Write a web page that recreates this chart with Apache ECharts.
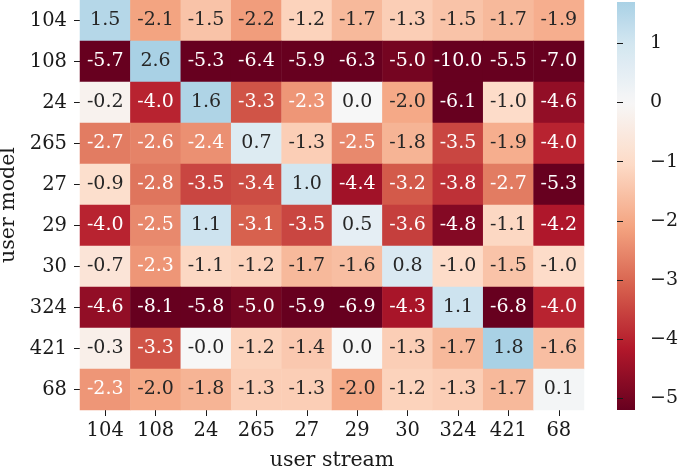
<!DOCTYPE html>
<html>
<head>
<meta charset="utf-8">
<script src="https://cdn.jsdelivr.net/npm/echarts@6/dist/echarts.min.js"></script>
<style>
  html, body { margin: 0; padding: 0; background: #fff; }
  #chart { width: 685px; height: 468px; }
</style>
</head>
<body>
<div id="chart"></div>
<script>
// categories (rows = user model, cols = user stream)
const streams = ['104', '108', '24', '265', '27', '29', '30', '324', '421', '68'];
const models = ['104', '108', '24', '265', '27', '29', '30', '324', '421', '68'];

// one row of values per user model
const row104 = [1.5, -2.1, -1.5, -2.2, -1.2, -1.7, -1.3, -1.5, -1.7, -1.9];
const row108 = [-5.7, 2.6, -5.3, -6.4, -5.9, -6.3, -5.0, -10.0, -5.5, -7.0];
const row24 = [-0.2, -4.0, 1.6, -3.3, -2.3, 0.0, -2.0, -6.1, -1.0, -4.6];
const row265 = [-2.7, -2.6, -2.4, 0.7, -1.3, -2.5, -1.8, -3.5, -1.9, -4.0];
const row27 = [-0.9, -2.8, -3.5, -3.4, 1.0, -4.4, -3.2, -3.8, -2.7, -5.3];
const row29 = [-4.0, -2.5, 1.1, -3.1, -3.5, 0.5, -3.6, -4.8, -1.1, -4.2];
const row30 = [-0.7, -2.3, -1.1, -1.2, -1.7, -1.6, 0.8, -1.0, -1.5, -1.0];
const row324 = [-4.6, -8.1, -5.8, -5.0, -5.9, -6.9, -4.3, 1.1, -6.8, -4.0];
const row421 = [-0.3, -3.3, -0.0, -1.2, -1.4, 0.0, -1.3, -1.7, 1.8, -1.6];
const row68 = [-2.3, -2.0, -1.8, -1.3, -1.3, -2.0, -1.2, -1.3, -1.7, 0.1];
const rows = [row104, row108, row24, row265, row27, row29, row30, row324, row421, row68];

// colour scale range and colorbar ticks
const vmin = -5.2;
const vmax = 1.7;
const cbTicks = [-5, -4, -3, -2, -1, 0, 1];

// RdBu centred at 0 (like seaborn center=0)
const rdbu = ['#67001f', '#b2182b', '#d6604d', '#f4a582', '#fddbc7', '#f7f7f7',
  '#d1e5f0', '#92c5de', '#4393c3', '#2166ac', '#053061'];
const vr = Math.max(vmax, -vmin);

function hex2rgb(h) {
  return [parseInt(h.slice(1, 3), 16), parseInt(h.slice(3, 5), 16), parseInt(h.slice(5, 7), 16)];
}
function cmapRGB(t) {
  t = Math.min(1, Math.max(0, t));
  let s = t * 10;
  let i = Math.min(Math.floor(s), 9);
  let f = s - i;
  let a = hex2rgb(rdbu[i]), b = hex2rgb(rdbu[i + 1]);
  return [0, 1, 2].map(k => a[k] + (b[k] - a[k]) * f);
}
function valueRGB(v) {
  v = Math.min(vmax, Math.max(vmin, v));
  return cmapRGB(0.5 + v / (2 * vr));
}
function rgbStr(c) {
  return 'rgb(' + c.map(x => Math.round(x)).join(',') + ')';
}
function luminance(c) {
  let l = c.map(x => {
    x = x / 255;
    return x <= 0.03928 ? x / 12.92 : Math.pow((x + 0.055) / 1.055, 2.4);
  });
  return 0.2126 * l[0] + 0.7152 * l[1] + 0.0722 * l[2];
}
function fmt(v) {
  if (v < 0 || Object.is(v, -0)) return '-' + Math.abs(v).toFixed(1);
  return v.toFixed(1);
}

// heatmap cells
let cells = [];
rows.forEach((r, yi) => {
  r.forEach((v, xi) => {
    let c = valueRGB(v);
    cells.push({
      value: [xi, yi, v],
      itemStyle: { color: rgbStr(c) },
      label: { color: luminance(c) < 0.42 ? '#ffffff' : '#262626' }
    });
  });
});

// gradient for colorbar
let stops = [];
for (let i = 0; i <= 40; i++) {
  let v = vmin + (vmax - vmin) * i / 40;
  stops.push({ offset: i / 40, color: rgbStr(valueRGB(v)) });
}

const chart = echarts.init(document.getElementById('chart'));
const font = 'DejaVu Serif';
const ink = '#1a1a1a';

let option = {
  animation: false,
  textStyle: { fontFamily: font },
  grid: [
    { left: 80, right: 101, top: 0, bottom: 58, outerBoundsMode: 'none', containLabel: false },
    {
      left: 617, width: 18, top: 2, height: 408, show: true, borderWidth: 0,
      outerBoundsMode: 'none', containLabel: false,
      backgroundColor: new echarts.graphic.LinearGradient(0, 1, 0, 0, stops)
    }
  ],
  xAxis: [
    {
      type: 'category', data: streams, gridIndex: 0,
      axisLine: { show: false },
      axisTick: { show: true, alignWithLabel: true, length: 6, lineStyle: { color: ink } },
      axisLabel: { color: ink, fontSize: 19.5, fontFamily: font, margin: 11 },
      splitLine: { show: false },
      name: 'user stream', nameLocation: 'middle', nameGap: 40,
      nameTextStyle: { color: ink, fontSize: 20.5, fontFamily: font }
    },
    { type: 'value', gridIndex: 1, show: false }
  ],
  yAxis: [
    {
      type: 'category', data: models, gridIndex: 0, inverse: true,
      axisLine: { show: false },
      axisTick: { show: true, alignWithLabel: true, length: 6, lineStyle: { color: ink } },
      axisLabel: { color: ink, fontSize: 19.5, fontFamily: font, margin: 13 },
      splitLine: { show: false },
      name: 'user model', nameLocation: 'middle', nameGap: 56,
      nameTextStyle: { color: ink, fontSize: 20.5, fontFamily: font }
    },
    {
      type: 'value', gridIndex: 1, position: 'right', min: vmin, max: vmax,
      axisLine: { show: false },
      splitLine: { show: false },
      axisTick: { show: true, length: 6, customValues: cbTicks, lineStyle: { color: ink } },
      axisLabel: {
        color: ink, fontSize: 19, fontFamily: font, margin: 15, customValues: cbTicks,
        formatter: v => String(v).replace('-', '\u2212')
      }
    }
  ],
  series: [
    {
      type: 'heatmap',
      xAxisIndex: 0, yAxisIndex: 0,
      data: cells,
      label: {
        show: true, fontSize: 19, fontFamily: font,
        formatter: p => fmt(p.value[2])
      },
      itemStyle: { borderWidth: 0 },
      emphasis: { disabled: true }
    }
  ]
};

chart.setOption(option);
</script>
</body>
</html>
